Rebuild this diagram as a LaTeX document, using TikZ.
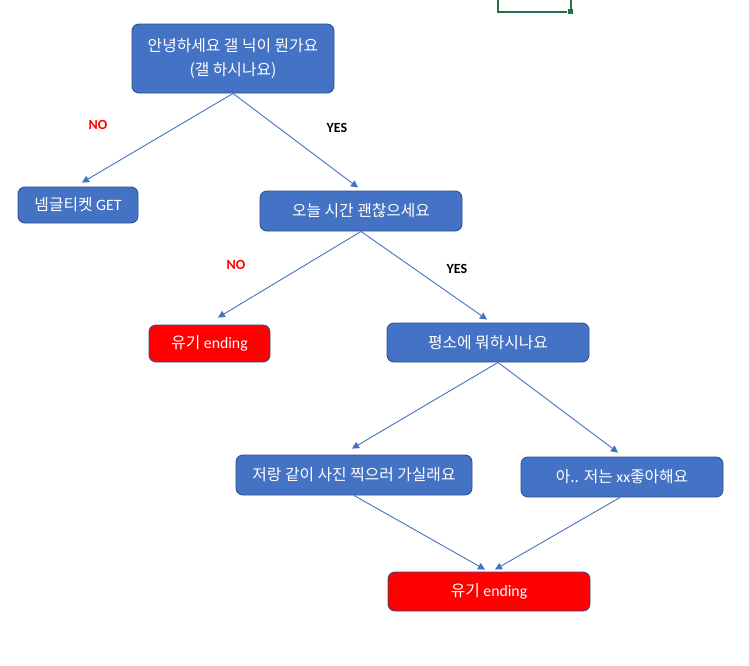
\documentclass[tikz,border=0pt]{standalone}
\usepackage{fontspec}
\setmainfont{Carlito}
\newfontfamily\kr{Noto Sans CJK KR}
\usetikzlibrary{arrows.meta,calc}
\definecolor{boxblue}{HTML}{4472C4}
\definecolor{boxedge}{HTML}{2F528F}
\definecolor{xlgreen}{HTML}{217346}
\definecolor{boxred}{HTML}{FF0000}
\tikzset{
  box/.style={draw=boxedge, line width=0.9pt, fill=boxblue, rounded corners=7pt,
    text=white, align=center, inner sep=0pt,
    font=\fontsize{15.8}{24}\selectfont\kr},
  redbox/.style={box, fill=boxred},
  conn/.style={draw=boxblue, line width=0.9pt, -{Triangle[length=7pt,width=7pt]}},
  lbl/.style={font=\fontsize{14}{16}\selectfont\bfseries, inner sep=0pt},
}
\begin{document}
\begin{tikzpicture}[x=1pt,y=-1pt]
\useasboundingbox (0,0) rectangle (749,665);
\fill[white] (0,0) rectangle (749,665);
% excel cell selection fragment
\draw[xlgreen, line width=2pt] (497.5,0) -- (497.5,11.7) -- (567,11.7);
\draw[xlgreen, line width=2pt] (570.5,0) -- (570.5,8.5);
\fill[xlgreen] (567.7,9) rectangle (572.7,14);
% nodes
\node[box, minimum width=202pt, minimum height=69pt] (A) at (233,58.5) {안녕하세요 갤 닉이 뭔가요\\(갤 하시나요)};
\node[box, minimum width=120pt, minimum height=36pt] (B) at (78,205) {넴글티켓 {\rmfamily GET}};
\node[box, minimum width=202pt, minimum height=40pt] (C) at (361,211) {오늘 시간 괜찮으세요};
\node[redbox, minimum width=121pt, minimum height=37pt] (D) at (209.5,343.5) {유기 {\rmfamily ending}};
\node[box, minimum width=202pt, minimum height=39pt] (E) at (488,342.5) {평소에 뭐하시나요};
\node[box, minimum width=236pt, minimum height=40pt] (F) at (354,475) {저랑 같이 사진 찍으러 가실래요};
\node[box, minimum width=202pt, minimum height=40pt] (G) at (622,477) {아.. 저는 {\rmfamily xx}좋아해요};
\node[redbox, minimum width=202pt, minimum height=39pt] (H) at (489,591.5) {유기 {\rmfamily ending}};
% labels
\node[lbl, text=boxred] (n1) at (98,125) {NO};
\node[lbl, text=black] (y1) at (337,128) {YES};
\node[lbl, text=boxred] (n2) at (236,265) {NO};
\node[lbl, text=black] (y2) at (457,269) {YES};
% connectors
\draw[conn] (A.south) -- ($(B.north)+(4,-4)$);
\draw[conn] (A.south) -- ($(C.north)+(-3,-3)$);
\draw[conn] (C.south) -- ($(D.north)+(8.5,-7)$);
\draw[conn] (C.south) -- ($(E.north)+(-1,-3)$);
\draw[conn] ($(E.south)+(10,0)$) -- ($(F.north)+(-2,-6)$);
\draw[conn] ($(E.south)+(10,0)$) -- ($(G.north)+(-4,-4)$);
\draw[conn] (F.south) -- ($(H.north)+(-4,-2)$);
\draw[conn] ($(G.south)+(-2,0)$) -- ($(H.north)+(6,-2)$);
\end{tikzpicture}
\end{document}
